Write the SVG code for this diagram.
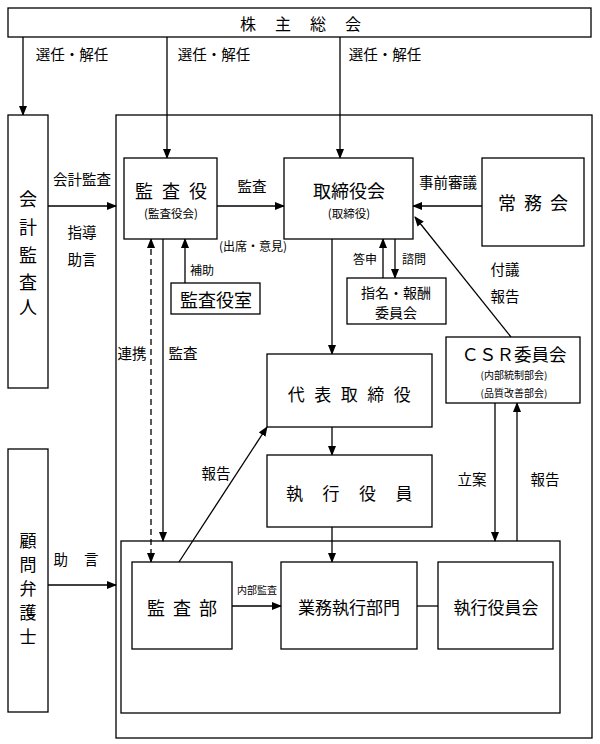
<svg xmlns="http://www.w3.org/2000/svg" width="600" height="744" viewBox="0 0 600 744">
<defs>
<marker id="ah" markerWidth="10" markerHeight="8" refX="9" refY="4" orient="auto-start-reverse" markerUnits="userSpaceOnUse">
<path d="M0,0 L10,4 L0,8 Z" fill="#000"/>
</marker>
<style>
.box{fill:#fff;stroke:#000;stroke-width:1.3}
.ln{fill:none;stroke:#000;stroke-width:1.3}
.arr{fill:none;stroke:#000;stroke-width:1.3;marker-end:url(#ah)}
.dash{fill:none;stroke:#000;stroke-width:1.3;stroke-dasharray:6,4;marker-start:url(#ah);marker-end:url(#ah)}
text{font-family:"Noto Sans CJK JP","Noto Sans",sans-serif;fill:#000;text-anchor:middle;dominant-baseline:central}
.big{font-size:18px}
.mid{font-size:17px}
.lbl{font-size:14.5px}
.sm{font-size:12px}
.xs{font-size:10px}
</style>
</defs>
<rect width="600" height="744" fill="#fff"/>

<g id="company"><rect class="box" x="116" y="115" width="476" height="623"/></g>
<g id="division"><rect class="box" x="121" y="541" width="439" height="172"/></g>

<g id="connectors">
<path class="arr" d="M23,37 V115"/>
<path class="arr" d="M167,37 V158"/>
<path class="arr" d="M340,37 V158"/>
<path class="arr" d="M48,206 H116"/>
<path class="arr" d="M48,585 H116"/>
<path class="arr" d="M217,206 H284"/>
<path class="arr" d="M482,206 H413"/>
<path class="arr" d="M511,337 L415,217"/>
<path class="arr" d="M185,283 V239"/>
<path class="arr" d="M383,278 V239"/>
<path class="arr" d="M395,239 V278"/>
<path class="arr" d="M332,239 V354"/>
<path class="arr" d="M332,427 V455"/>
<path class="arr" d="M332,527 V562"/>
<path class="arr" d="M163,239 V541"/>
<path class="dash" d="M151,239 V562"/>
<path class="arr" d="M179,562 L267,427"/>
<path class="arr" d="M232,606 H281"/>
<path class="ln" d="M417,606 H438"/>
<path class="arr" d="M495,403 V541"/>
<path class="arr" d="M517,541 V403"/>
</g>

<g id="labels">
<text class="lbl" x="72" y="53">選任・解任</text>
<text class="lbl" x="214" y="53">選任・解任</text>
<text class="lbl" x="385" y="53">選任・解任</text>
<text class="lbl" x="82" y="178">会計監査</text>
<text class="lbl" x="82" y="231">指導</text>
<text class="lbl" x="82" y="258">助言</text>
<text class="lbl" x="252" y="185">監査</text>
<text class="sm" x="253" y="245">(出席・意見)</text>
<text class="lbl" x="448" y="181">事前審議</text>
<text class="sm" x="202" y="269">補助</text>
<text class="sm" x="365" y="258">答申</text>
<text class="sm" x="414" y="258">諮問</text>
<text class="lbl" x="505" y="268">付議</text>
<text class="lbl" x="505" y="295">報告</text>
<text class="lbl" x="132" y="352">連携</text>
<text class="lbl" x="183" y="352">監査</text>
<text class="lbl" x="216" y="472">報告</text>
<text class="lbl" x="472" y="478">立案</text>
<text class="lbl" x="545" y="478">報告</text>
<text class="lbl" x="84" y="558" style="letter-spacing:16px">助言</text>
<text class="xs" x="257" y="589">内部監査</text>
</g>

<g id="shareholders">
<rect class="box" x="8" y="8" width="583" height="29"/>
<text x="310" y="23" style="font-size:16px;letter-spacing:19px">株主総会</text>
</g>

<g id="auditor">
<rect class="box" x="8" y="115" width="40" height="273"/>
<text class="big" x="28" y="198">会</text>
<text class="big" x="28" y="226">計</text>
<text class="big" x="28" y="254">監</text>
<text class="big" x="28" y="281">査</text>
<text class="big" x="28" y="306">人</text>
</g>

<g id="lawyer">
<rect class="box" x="8" y="449" width="40" height="263"/>
<text class="mid" x="28" y="539">顧</text>
<text class="mid" x="28" y="563">問</text>
<text class="mid" x="28" y="587">弁</text>
<text class="mid" x="28" y="611">護</text>
<text class="mid" x="28" y="635">士</text>
</g>

<g id="kansayaku">
<rect class="box" x="124" y="158" width="93" height="81"/>
<text class="big" x="175.5" y="190" style="letter-spacing:9px">監査役</text>
<text x="171" y="213" style="font-size:11.5px">(監査役会)</text>
</g>

<g id="torishimariyakukai">
<rect class="box" x="284" y="158" width="129" height="81"/>
<text class="big" x="349" y="190">取締役会</text>
<text x="349" y="213" style="font-size:11.5px">(取締役)</text>
</g>

<g id="jomukai">
<rect class="box" x="482" y="158" width="102" height="88"/>
<text class="big" x="537" y="202" style="letter-spacing:8px">常務会</text>
</g>

<g id="kansayakushitsu">
<rect class="box" x="171" y="283" width="89" height="31"/>
<text class="big" x="216" y="299">監査役室</text>
</g>

<g id="nomination">
<rect class="box" x="347" y="278" width="99" height="46"/>
<text x="396" y="292" style="font-size:14px">指名・報酬</text>
<text x="396" y="312" style="font-size:14px">委員会</text>
</g>

<g id="csr">
<rect class="box" x="446" y="337" width="134" height="66"/>
<text x="514" y="353" style="font-size:17.5px">ＣＳＲ委員会</text>
<text class="xs" x="514" y="374">(内部統制部会)</text>
<text class="xs" x="514" y="392">(品質改善部会)</text>
</g>

<g id="daihyo">
<rect class="box" x="267" y="354" width="165" height="73"/>
<text class="mid" x="354" y="393" style="letter-spacing:9.5px">代表取締役</text>
</g>

<g id="shikkoyakuin">
<rect class="box" x="267" y="455" width="165" height="72"/>
<text class="mid" x="359" y="492" style="letter-spacing:19.5px">執行役員</text>
</g>

<g id="kansabu">
<rect class="box" x="132" y="562" width="100" height="87"/>
<text class="big" x="186" y="607" style="letter-spacing:8px">監査部</text>
</g>

<g id="gyomu">
<rect class="box" x="281" y="562" width="136" height="87"/>
<text class="mid" x="349" y="606">業務執行部門</text>
</g>

<g id="shikkoyakuinkai">
<rect class="box" x="438" y="562" width="115" height="87"/>
<text class="mid" x="496" y="606">執行役員会</text>
</g>
</svg>
